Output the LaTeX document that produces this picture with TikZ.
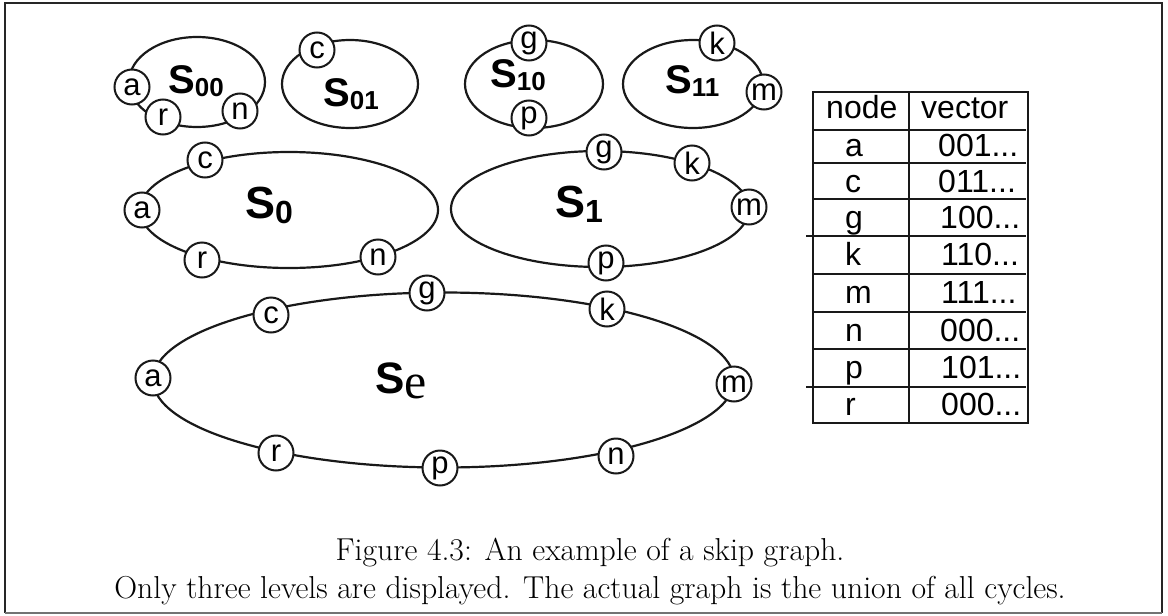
\documentclass[tikz,border=0pt]{standalone}
\usepackage{fontspec}
\usetikzlibrary{shapes.geometric}
\newfontfamily\hv{Liberation Sans}
\newfontfamily\tm{Liberation Serif}
\newcommand{\slabA}[1]{{\hv\bfseries\fontsize{40}{40}\selectfont S\raisebox{-3pt}{\fontsize{26}{26}\selectfont #1}}}
\newcommand{\slabB}[1]{{\hv\bfseries\fontsize{45}{45}\selectfont S\raisebox{-5pt}{\fontsize{32}{32}\selectfont #1}}}
\begin{document}
\begin{tikzpicture}[x=1pt,y=-1pt,
  cyc/.style={draw=black!90, line width=2.2pt, ellipse, inner sep=0pt},
  vtx/.style={circle, draw=black!90, line width=2pt, fill=white, minimum size=35pt, inner sep=0pt, font=\hv\fontsize{31}{31}\selectfont},
  tline/.style={line width=1.6pt, black!90},
  tbord/.style={line width=2.4pt, black!90},
  ttxt/.style={anchor=base west, inner sep=0pt, font=\hv\fontsize{32}{32}\selectfont},
  lab/.style={anchor=base west, inner sep=0pt},
  captxt/.style={anchor=base, inner sep=0pt, font=\fontsize{31.7}{38}\selectfont}
]
\useasboundingbox (0,0) rectangle (1168,616);
% frame
\draw[line width=1.6pt, black!85] (5,613) -- (5,3) -- (1162,3) -- (1162,613);
\draw[line width=1.6pt, black!55] (5,613) -- (1162,613);

% ---- top row ----
\node[cyc, minimum width=136pt, minimum height=90pt] (E00) at (197,82) {};
\node[cyc, minimum width=136pt, minimum height=88pt] (E01) at (350,84) {};
\node[cyc, minimum width=138pt, minimum height=88pt] (E10) at (534,84) {};
\node[cyc, minimum width=140pt, minimum height=88pt] (E11) at (693,84) {};
\node[lab] (L00) at (168,93) {\slabA{00}};
\node[lab] (L01) at (323,106) {\slabA{01}};
\node[lab] (L10) at (490,87) {\slabA{10}};
\node[lab] (L11) at (665,93) {\slabA{11}};
\node[vtx] (a00) at (132,87) {a};
\node[vtx] (r00) at (163,117) {r};
\node[vtx] (n00) at (240,111) {n};
\node[vtx] (c01) at (317,50) {c};
\node[vtx] (g10) at (529,43) {g};
\node[vtx] (p10) at (529,118) {p};
\node[vtx] (k11) at (717,43) {k};
\node[vtx] (m11) at (764,92) {m};

% ---- middle row ----
\node[cyc, minimum width=298pt, minimum height=116pt] (E0) at (289,210) {};
\node[cyc, minimum width=298pt, minimum height=116pt] (E1) at (600,209) {};
\node[lab] (L0) at (245,218) {\slabB{0}};
\node[lab] (L1) at (555,217) {\slabB{1}};
\node[vtx] (a0) at (142,210) {a};
\node[vtx] (c0) at (205,160) {c};
\node[vtx] (r0) at (202,260) {r};
\node[vtx] (n0) at (378,257) {n};
\node[vtx] (g1) at (604,152) {g};
\node[vtx] (k1) at (692,163) {k};
\node[vtx] (m1) at (749,207) {m};
\node[vtx] (p1) at (606,263) {p};

% ---- bottom level ----
\node[cyc, minimum width=581pt, minimum height=175pt] (Ee) at (443.5,380) {};
\node[lab] (Le) at (375,393) {{\hv\bfseries\fontsize{44}{44}\selectfont S}\raisebox{-5pt}{\tm\fontsize{50}{50}\selectfont e}};
\node[vtx] (ae) at (153,378) {a};
\node[vtx] (ce) at (271,315) {c};
\node[vtx] (ge) at (427,293) {g};
\node[vtx] (ke) at (607,309) {k};
\node[vtx] (me) at (734,384) {m};
\node[vtx] (ne) at (616,456) {n};
\node[vtx] (pe) at (440,468) {p};
\node[vtx] (re) at (276,453) {r};

% ---- table ----
\coordinate (TL) at (813,92);
\coordinate (BR) at (1028,423);
\draw[tline] (909,92) -- (909,423);
\foreach \y in {130,163,199,274,312,349} { \draw[tline] (813,\y) -- (1026,\y); }
\foreach \y in {236,387} { \draw[tline] (806,\y) -- (1026,\y); }
\draw[tbord] (TL) rectangle (BR);
\node[ttxt] (hnode) at (826,118) {node};
\node[ttxt] (hvec) at (921,118) {vector};
\node[ttxt] (ta) at (845,156) {a};   \node[ttxt] (va) at (938,156) {001...};
\node[ttxt] (tc) at (845,192) {c};   \node[ttxt] (vc) at (938,192) {011...};
\node[ttxt] (tg) at (845,228) {g};   \node[ttxt] (vg) at (940,228) {100...};
\node[ttxt] (tk) at (845,265) {k};   \node[ttxt] (vk) at (941,265) {110...};
\node[ttxt] (tm) at (845,303) {m};   \node[ttxt] (vm) at (941,303) {111...};
\node[ttxt] (tn) at (845,341) {n};   \node[ttxt] (vn) at (940,341) {000...};
\node[ttxt] (tp) at (845,378) {p};   \node[ttxt] (vp) at (941,378) {101...};
\node[ttxt] (tr) at (845,415) {r};   \node[ttxt] (vr) at (941,415) {000...};

% ---- caption ----
\node[captxt] (cap1) at (590,560) {Figure 4.3: An example of a skip graph.};
\node[captxt] (cap2) at (590,598) {Only three levels are displayed. The actual graph is the union of all cycles.};
\end{tikzpicture}
\end{document}
